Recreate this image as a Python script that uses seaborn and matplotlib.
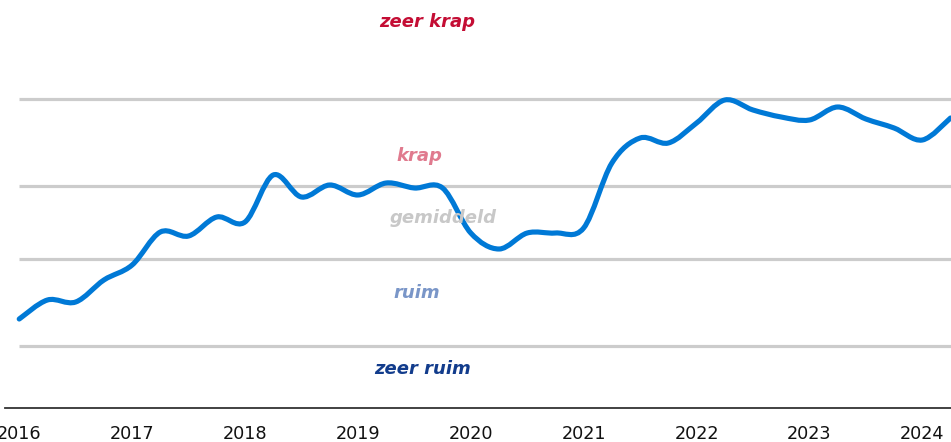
import numpy as np
import pandas as pd
import matplotlib
matplotlib.use("Agg")
import matplotlib.pyplot as plt
import seaborn as sns
from matplotlib.path import Path
from matplotlib.patches import PathPatch

# ---------------- data ----------------
jaar = [2016.00, 2016.25, 2016.50, 2016.75,
        2017.00, 2017.25, 2017.50, 2017.75,
        2018.00, 2018.25, 2018.50, 2018.75,
        2019.00, 2019.25, 2019.50, 2019.75,
        2020.00, 2020.25, 2020.50, 2020.75,
        2021.00, 2021.25, 2021.50, 2021.75,
        2022.00, 2022.25, 2022.50, 2022.75,
        2023.00, 2023.25, 2023.50, 2023.75,
        2024.00, 2024.25]
waarde = [8.9, 10.8, 10.6, 12.8,
          14.3, 17.6, 17.2, 19.1,
          18.6, 23.3, 21.1, 22.3,
          21.3, 22.5, 22.0, 22.0,
          17.5, 15.9, 17.5, 17.5,
          18.0, 24.5, 27.0, 26.5,
          28.5, 30.8, 29.8, 29.1,
          28.8, 30.1, 28.9, 28.0,
          26.8, 29.0]
grenzen = [30.9, 22.2, 14.9, 6.2]
jaartallen = [2016, 2017, 2018, 2019, 2020, 2021, 2022, 2023, 2024]
klassen = ["zeer krap", "krap", "gemiddeld", "ruim", "zeer ruim"]
klasse_kleuren = ["#C40D34", "#E07A8E", "#C8C8C8", "#7A96C8", "#123C8C"]

LINE = "#0079D6"

sns.set_theme(style="white")
plt.rcParams["font.family"] = ["DejaVu Sans"]

df = pd.DataFrame({"jaar": jaar, "waarde": waarde})

W, H = 951, 442
fig = plt.figure(figsize=(W / 100, H / 100), dpi=100)
ax = fig.add_axes([5 / W, 34 / H, 946 / W, 408 / H])

xmin, xmax = 2015.874, 2024.254
ax.set_xlim(xmin, xmax)
ax.set_ylim(0, 40.8)

# gridlines (start at first data year)
ax.hlines(grenzen, jaar[0], xmax, colors="#CCCCCC", lw=2.3, zorder=1)

# data line via seaborn, then rendered as a smooth spline through the same points
sns.lineplot(data=df, x="jaar", y="waarde", ax=ax, color=LINE, lw=3.7, zorder=3)
line = ax.lines[-1]
pts = line.get_xydata()
n = len(pts)
verts = [tuple(pts[0])]
codes = [Path.MOVETO]
for i in range(n - 1):
    p0 = pts[max(i - 1, 0)]
    p1 = pts[i]
    p2 = pts[i + 1]
    p3 = pts[min(i + 2, n - 1)]
    c1 = p1 + (p2 - p0) / 6.0
    c2 = p2 - (p3 - p1) / 6.0
    verts += [tuple(c1), tuple(c2), tuple(p2)]
    codes += [Path.CURVE4] * 3
patch = PathPatch(Path(verts, codes), fill=False, edgecolor=LINE, lw=3.7,
                  capstyle="round", joinstyle="round", zorder=3)
ax.add_patch(patch)
line.remove()
ax.set_xlim(xmin, xmax)
ax.set_ylim(0, 40.8)

# class labels
label_x = [2019.617, 2019.547, 2019.754, 2019.523, 2019.576]
label_y = [38.1, 24.7, 18.5, 11.0, 3.4]
for t, c, lx, ly in zip(klassen, klasse_kleuren, label_x, label_y):
    ax.text(lx, ly, t, color=c, fontsize=13, fontweight="bold", fontstyle="italic",
            ha="center", va="baseline", zorder=4)

# axes styling
for s in ["top", "right", "left"]:
    ax.spines[s].set_visible(False)
ax.spines["bottom"].set_color("#333333")
ax.spines["bottom"].set_linewidth(1.3)
ax.set_xticks(jaartallen)
ax.set_xticklabels([str(j) for j in jaartallen])
ax.set_yticks([])
ax.tick_params(axis="x", length=0, pad=12.3, labelsize=12.7, labelcolor="#111111")
ax.set_xlabel("")
ax.set_ylabel("")
ax.grid(False)

fig.savefig("out.png", dpi=100)
